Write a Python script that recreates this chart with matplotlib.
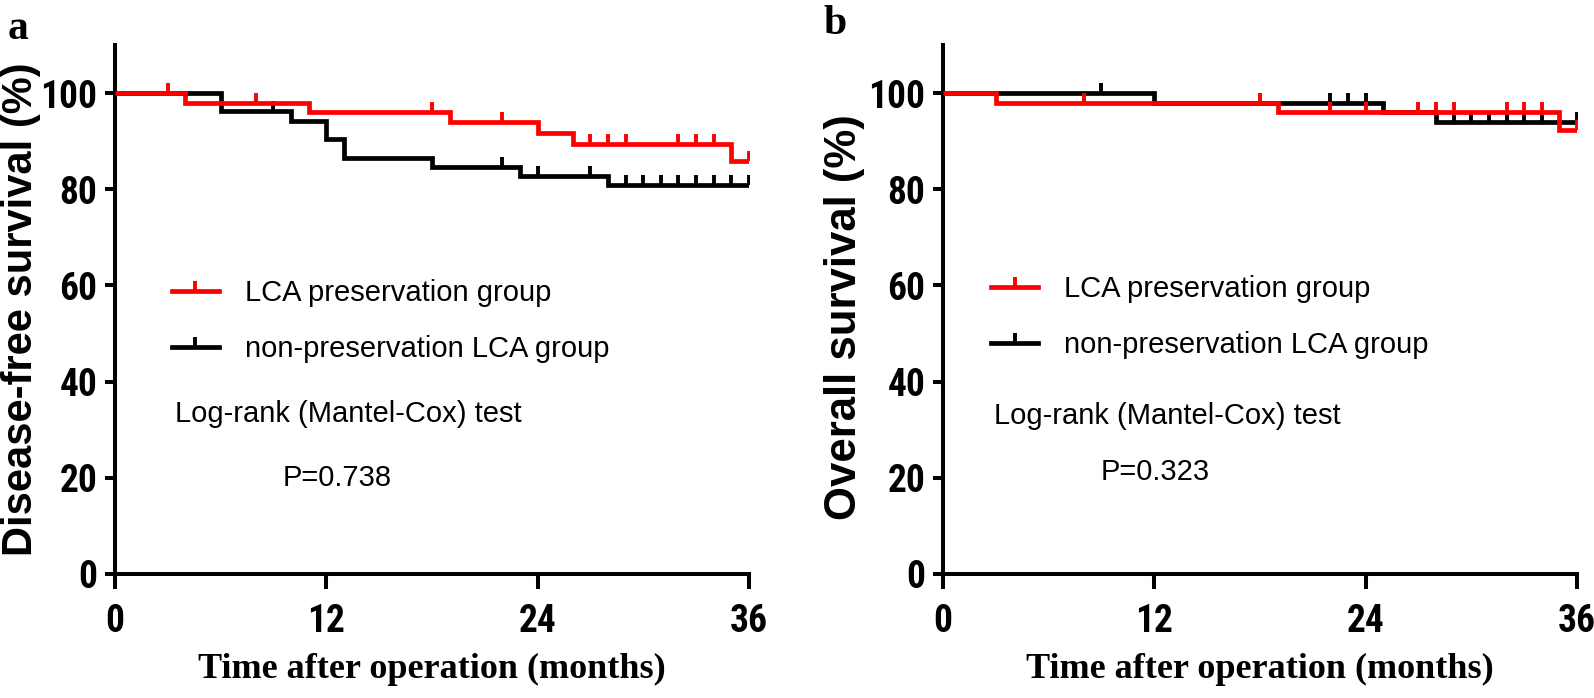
import numpy as np
import matplotlib
matplotlib.use('Agg')
import matplotlib.pyplot as plt
from matplotlib.lines import Line2D
from matplotlib.markers import MarkerStyle
from matplotlib.path import Path
from matplotlib import font_manager

# ---- data ----
# panel a: disease-free survival
a_red_t = [0, 4, 11, 19, 24, 26, 35, 36]
a_red_s = [100, 98, 96, 93.9, 91.8, 89.4, 85.9, 85.9]
a_red_cens = [3, 8, 18, 22, 27, 28, 29, 32, 33, 34, 36]
a_blk_t = [0, 6, 10, 12, 13, 18, 23, 28, 36]
a_blk_s = [100, 96.2, 94.2, 90.4, 86.5, 84.6, 82.7, 80.8, 80.8]
a_blk_cens = [9, 22, 24, 27, 29, 30, 31, 32, 33, 34, 35, 36]

# panel b: overall survival
b_red_t = [0, 3, 19, 35, 36]
b_red_s = [100, 98, 96, 92.3, 92.3]
b_red_cens = [8, 18, 22, 24, 27, 28, 29, 32, 33, 34, 36]
b_blk_t = [0, 12, 25, 28, 36]
b_blk_s = [100, 98, 96, 93.9, 93.9]
b_blk_cens = [9, 22, 23, 24, 29, 30, 31, 32, 33, 34, 36]

group_labels = ['LCA preservation group', 'non-preservation LCA group']
y_labels = ['Disease-free survival (%)', 'Overall survival (%)']
p_values = ['P=0.738', 'P=0.323']
panel_tags = ['a', 'b']
x_ticks = [0, 12, 24, 36]
y_ticks = [0, 20, 40, 60, 80, 100]

RED = '#ff0000'
BLK = '#000000'
LW = 3.4

# censor tick: a short stroke pointing up from the curve
tick = MarkerStyle(Path([[0, 0], [0, 1]], [Path.MOVETO, Path.LINETO]))

SANS = ['Liberation Sans', 'DejaVu Sans']
SERIF = ['Liberation Serif', 'DejaVu Serif']


def pick_narrow():
    # narrowest bold face that is installed, for the tick numbers
    tries = [dict(family='Liberation Sans Narrow', size=27),
             dict(family='Roboto Condensed', size=27),
             dict(family='Open Sans Condensed', size=26),
             dict(family='DejaVu Sans', stretch='condensed', size=23)]
    for kw in tries:
        fp = font_manager.FontProperties(weight='bold', **kw)
        try:
            p = font_manager.findfont(fp, fallback_to_default=False)
        except Exception:
            continue
        name = p.replace('-', '').replace('_', '').lower()
        if 'narrow' in name or 'condensed' in name:
            return fp
    return font_manager.FontProperties(family='Liberation Sans', weight='bold',
                                       size=22)


narrow = pick_narrow()


def step_value(t, s, x):
    i = np.searchsorted(t, x, side='right') - 1
    return np.asarray(s)[i]


def draw_curve(ax, t, s, cens, color, z):
    ax.step(t, s, where='post', color=color, lw=LW, zorder=z,
            solid_joinstyle='miter', solid_capstyle='butt')
    ax.plot(cens, step_value(t, s, cens), ls='none', marker=tick,
            ms=14.4, mew=2.8, color=color, zorder=z)


def style_axes(ax):
    ax.set_xlim(0, 36)
    ax.set_ylim(0, 110)
    ax.set_xticks(x_ticks)
    ax.set_yticks(y_ticks)
    for side in ['top', 'right']:
        ax.spines[side].set_visible(False)
    for side in ['left', 'bottom']:
        ax.spines[side].set_linewidth(2.9)
    ax.tick_params(axis='y', length=7.2, width=2.9, pad=5.5)
    ax.tick_params(axis='x', length=10.8, width=2.9, pad=10)
    for lab in ax.get_xticklabels() + ax.get_yticklabels():
        lab.set_fontproperties(narrow)


fig = plt.figure(figsize=(15.94, 6.98), dpi=100)
ax_a = fig.add_axes([0.0721, 0.1777, 0.3977, 0.7578])
ax_b = fig.add_axes([0.5916, 0.1777, 0.3977, 0.7578])

draw_curve(ax_a, a_blk_t, a_blk_s, a_blk_cens, BLK, 3)
draw_curve(ax_a, a_red_t, a_red_s, a_red_cens, RED, 4)
draw_curve(ax_b, b_blk_t, b_blk_s, b_blk_cens, BLK, 3)
draw_curve(ax_b, b_red_t, b_red_s, b_red_cens, RED, 4)

legend_pos = [(0.090, 0.478), (0.076, 0.486)]
logrank_pos = [(0.0946, 0.303), (0.080, 0.299)]
p_pos = [(0.265, 0.181), (0.248, 0.193)]
tag_pos = [(-0.153, 1.03), (-0.170, 1.04)]
ylab_pos = [(-0.148, 0.5), (-0.155, 0.485)]
ylab_size = [30, 31.5]

for k, ax in enumerate([ax_a, ax_b]):
    style_axes(ax)
    ax.set_xlabel('Time after operation (months)', family=SERIF,
                  fontweight='bold', fontsize=26)
    ax.xaxis.set_label_coords(0.5, -0.149)
    ax.text(ylab_pos[k][0], ylab_pos[k][1], y_labels[k], transform=ax.transAxes,
            rotation=90, ha='center', va='center', family=SANS,
            fontweight='bold', fontsize=ylab_size[k])
    ax.text(tag_pos[k][0], tag_pos[k][1], panel_tags[k], transform=ax.transAxes,
            ha='center', va='center', family=SERIF, fontweight='bold',
            fontsize=30)
    handles = [Line2D([], [], color=RED, lw=LW, marker=tick, ms=14.4, mew=2.8),
               Line2D([], [], color=BLK, lw=LW, marker=tick, ms=14.4, mew=2.8)]
    leg = ax.legend(handles, group_labels, loc='center left',
                    bbox_to_anchor=legend_pos[k], frameon=False,
                    prop={'family': SANS, 'size': 21}, handlelength=1.6,
                    handletextpad=0.9, labelspacing=0.95, borderpad=0,
                    borderaxespad=0, numpoints=1)
    ax.text(logrank_pos[k][0], logrank_pos[k][1], 'Log-rank (Mantel-Cox) test',
            transform=ax.transAxes, ha='left', va='center', family=SANS,
            fontsize=21)
    ax.text(p_pos[k][0], p_pos[k][1], p_values[k], transform=ax.transAxes,
            ha='left', va='center', family=SANS, fontsize=21)

fig.savefig('out.png', dpi=100)
